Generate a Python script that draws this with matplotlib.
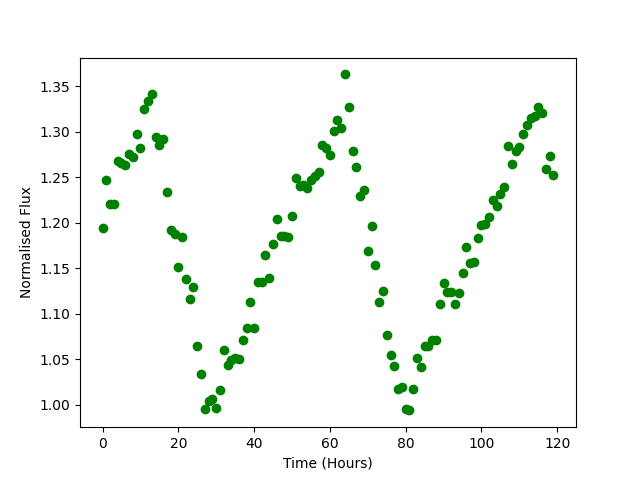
import numpy as np
import matplotlib
matplotlib.use('Agg')
import matplotlib.pyplot as plt

# hourly flux readings
time_hours = np.arange(120)
flux = [
    1.194, 1.247, 1.221, 1.221, 1.268, 1.266, 1.263, 1.276, 1.272, 1.298,
    1.282, 1.325, 1.334, 1.341, 1.294, 1.286, 1.292, 1.234, 1.192, 1.188,
    1.151, 1.184, 1.138, 1.116, 1.130, 1.065, 1.034, 0.995, 1.004, 1.006,
    0.997, 1.016, 1.060, 1.044, 1.049, 1.051, 1.050, 1.071, 1.084, 1.113,
    1.085, 1.135, 1.135, 1.165, 1.139, 1.177, 1.204, 1.185, 1.185, 1.184,
    1.208, 1.249, 1.240, 1.241, 1.238, 1.247, 1.251, 1.256, 1.286, 1.282,
    1.275, 1.301, 1.313, 1.304, 1.363, 1.327, 1.279, 1.261, 1.229, 1.236,
    1.169, 1.197, 1.154, 1.113, 1.125, 1.077, 1.055, 1.043, 1.018, 1.020,
    0.996, 0.994, 1.018, 1.051, 1.042, 1.065, 1.065, 1.071, 1.071, 1.111,
    1.134, 1.124, 1.124, 1.111, 1.123, 1.145, 1.173, 1.156, 1.157, 1.183,
    1.198, 1.199, 1.206, 1.225, 1.218, 1.232, 1.239, 1.284, 1.265, 1.279,
    1.283, 1.297, 1.307, 1.315, 1.317, 1.327, 1.321, 1.259, 1.273, 1.252,
]

plt.figure(figsize=(6.4, 4.8), dpi=100)
plt.plot(time_hours, flux, 'go')
plt.xlabel("Time (Hours)")
plt.ylabel("Normalised Flux")
plt.savefig("out.png")
